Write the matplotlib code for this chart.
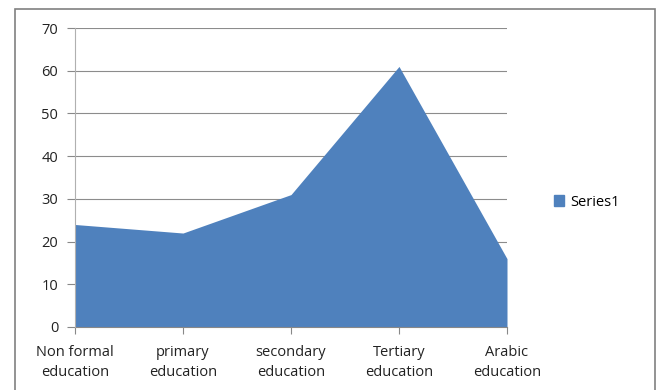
import matplotlib
matplotlib.use("Agg")
import matplotlib.pyplot as plt
from matplotlib.patches import Rectangle, Patch

categories = ["Non formal\neducation", "primary\neducation", "secondary\neducation",
              "Tertiary\neducation", "Arabic\neducation"]
values = [24, 22, 31, 61, 16]
yticks = [0, 10, 20, 30, 40, 50, 60, 70]

plt.rcParams['font.family'] = ['Open Sans', 'DejaVu Sans']

fig = plt.figure(figsize=(6.57, 3.90), dpi=100)
ax = fig.add_axes([75/657, 63/390, 432/657, 299/390])

x = list(range(len(categories)))
color = "#4F81BD"
ax.fill_between(x, values, 0, color=color, linewidth=0, zorder=2, label="Series1")

ax.set_xlim(0, len(categories) - 1)
ax.set_ylim(0, 70)
ax.set_yticks(yticks)
ax.set_xticks(x)
ax.set_xticklabels(categories, fontsize=10.5, color="#222222", linespacing=1.45)
ax.tick_params(axis='y', labelsize=10.5, labelcolor="#222222", length=6, color="#888888", pad=6)
ax.tick_params(axis='x', length=5, color="#888888", pad=8)
ax.grid(axis='y', color="#8c8c8c", linewidth=0.8, zorder=1)
ax.set_axisbelow(True)
for s in ["top", "right"]:
    ax.spines[s].set_visible(False)
ax.spines["left"].set_color("#b0b0b0")
ax.spines["bottom"].set_color("#888888")
ax.spines["left"].set_zorder(3)

fig.legend(handles=[Patch(facecolor=color, edgecolor=color)], labels=["Series1"],
           loc="center left", bbox_to_anchor=(541/657, 1 - 202/390), frameon=False,
           fontsize=10.5, handlelength=0.7, handleheight=0.7, handletextpad=0.4)

frame = Rectangle((15/657, -0.05), 640/657, 1.05 - 9/390, transform=fig.transFigure,
                  fill=False, edgecolor="#808080", linewidth=1.2, clip_on=False)
fig.patches.append(frame)

fig.savefig("out.png", dpi=100)
